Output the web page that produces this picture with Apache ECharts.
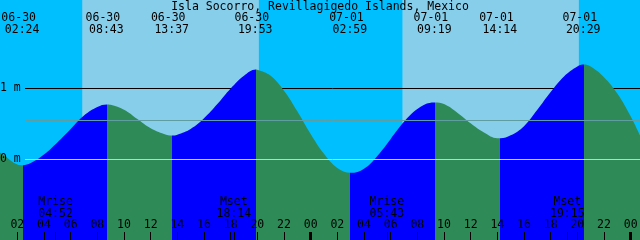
<!DOCTYPE html>
<html><head><meta charset="utf-8">
<script src="https://cdn.jsdelivr.net/npm/echarts@6/dist/echarts.min.js"></script>
<style>html,body{margin:0;padding:0;background:#00bfff}#c{width:640px;height:240px}</style>
</head><body><div id="c"></div>
<script>
// ---------- data ----------
const stationName = 'Isla Socorro, Revillagigedo Islands, Mexico';
const firstDate = '06-30';
const axisStartHour = 0.7;   // 06-30 00:42
const axisEndHour = 48.7;    // 07-02 00:42

const extremeKinds   = ['L', 'H', 'L', 'H', 'L', 'H', 'L', 'H'];
const extremeDates   = ['06-30', '06-30', '06-30', '06-30', '07-01', '07-01', '07-01', '07-01'];
const extremeTimes   = ['02:24', '08:43', '13:37', '19:53', '02:59', '09:19', '14:14', '20:29'];
const extremeHeights = [-0.08, 0.775, 0.338, 1.268, -0.188, 0.803, 0.30, 1.338];

const sampleHours   = [0.7, 1, 2, 3, 4, 5, 6, 7, 8, 9, 10, 11, 12, 13, 14, 15, 16, 17, 18, 19, 20, 21, 22, 23, 24,
                       25, 26, 28, 29, 30, 31, 32, 33, 34, 35, 36, 37, 38, 39, 40, 41, 42, 43, 44, 45, 46, 47, 48, 48.7];
const sampleHeights = [0.10, 0.06, -0.07, -0.05, 0.07, 0.24, 0.43, 0.62, 0.74, 0.77, 0.70, 0.57, 0.44, 0.36, 0.35, 0.43,
                       0.58, 0.78, 1.00, 1.18, 1.265, 1.18, 0.97, 0.68, 0.36, 0.08, -0.12, -0.13, 0.05, 0.29, 0.53, 0.71,
                       0.80, 0.78, 0.66, 0.51, 0.38, 0.30, 0.34, 0.47, 0.70, 0.95, 1.17, 1.31, 1.31, 1.16, 0.93, 0.61, 0.34];

const moonKinds = ['Mrise', 'Mset', 'Mrise', 'Mset'];
const moonDates = ['06-30', '06-30', '07-01', '07-01'];
const moonTimes = ['04:52', '18:14', '05:43', '19:15'];

const sunriseDates = ['06-30', '07-01'];
const sunriseTimes = ['06:52', '06:53'];
const sunsetDates  = ['06-30', '07-01'];
const sunsetTimes  = ['20:07', '20:07'];

const hourTickValues = [2, 4, 6, 8, 10, 12, 14, 16, 18, 20, 22, 24, 26, 28, 30, 32, 34, 36, 38, 40, 42, 44, 46, 48];
const hourTickLabels = ['02', '04', '06', '08', '10', '12', '14', '16', '18', '20', '22', '00',
                        '02', '04', '06', '08', '10', '12', '14', '16', '18', '20', '22', '00'];
const midnightTicks = [24, 48];

const levelValues = [0, 1];
const levelLabels = ['0 m', '1 m'];
const meanLevel = 0.549;

// ---------- helpers ----------
function toHours(d, t) {
  const p = t.split(':');
  return (d === firstDate ? 0 : 24) + (+p[0]) + (+p[1]) / 60;
}
const extremeHours = extremeDates.map((d, i) => toHours(d, extremeTimes[i]));
const moonHours = moonDates.map((d, i) => toHours(d, moonTimes[i]));
const dayAreas = sunriseDates.map((d, i) => [{ xAxis: toHours(d, sunriseTimes[i]) }, { xAxis: toHours(sunsetDates[i], sunsetTimes[i]) }]);

const tideData = sampleHours.map((h, i) => [h, sampleHeights[i]])
  .concat(extremeHours.map((h, i) => [h, extremeHeights[i]]))
  .sort((a, b) => a[0] - b[0]);

const RISE = '#0000ff', FALL = '#2e8b57';
const pieces = [];
for (let i = 0; i <= extremeHours.length; i++) {
  const rising = i < extremeHours.length ? extremeKinds[i] === 'H' : extremeKinds[i - 1] === 'L';
  const p = { color: rising ? RISE : FALL };
  if (i > 0) p.gte = extremeHours[i - 1];
  if (i < extremeHours.length) p.lt = extremeHours[i];
  pieces.push(p);
}

function nearestIndex(arr, v) {
  let best = 0;
  arr.forEach((a, i) => { if (Math.abs(a - v) < Math.abs(arr[best] - v)) best = i; });
  return best;
}

const FONT = 'DejaVu Sans Mono';
const FS = 11.5;
const W = 640;
const pxPerHour = W / (axisEndHour - axisStartHour);
const lineStartHour = axisStartHour + 25 / pxPerHour;
const pxPerMetre = 71;
const yMin = -80.5 / pxPerMetre, yMax = 159.5 / pxPerMetre;

function baseX(extra) {
  return Object.assign({
    type: 'value', min: axisStartHour, max: axisEndHour, gridIndex: 0, z: 20,
    axisLine: { show: false, onZero: false }, splitLine: { show: false },
    axisTick: { show: false }, axisLabel: { show: false }
  }, extra);
}
const txt = { fontFamily: FONT, fontSize: FS, color: '#000', lineHeight: 12 };

const option = {
  animation: false,
  backgroundColor: '#00bfff',
  title: {
    text: stationName, left: 'center', top: 1, padding: 0, z: 20,
    textStyle: { fontFamily: FONT, fontSize: FS, fontWeight: 'normal', color: '#000', lineHeight: 12 }
  },
  grid: { left: 0, right: 0, top: 0, bottom: 0, outerBoundsMode: 'none', containLabel: false },
  xAxis: [
    baseX({
      position: 'bottom',
      axisTick: { show: true, inside: true, length: 8, customValues: hourTickValues.concat(moonHours),
                  lineStyle: { color: '#000', width: 1 } },
      axisLabel: Object.assign({ show: true, inside: true, margin: 9, customValues: hourTickValues,
                  formatter: v => hourTickLabels[nearestIndex(hourTickValues, v)] }, txt)
    }),
    baseX({
      position: 'top',
      axisLabel: Object.assign({ show: true, inside: true, margin: 11.5, customValues: extremeHours,
                  padding: [0, 8, 0, 0],
                  formatter: v => { const i = nearestIndex(extremeHours, v); return extremeDates[i] + '\n ' + extremeTimes[i]; } },
                  txt, { lineHeight: 12.5 })
    }),
    baseX({
      position: 'bottom',
      axisLabel: Object.assign({ show: true, inside: true, margin: 20, customValues: moonHours,
                  formatter: v => { const i = nearestIndex(moonHours, v); return moonKinds[i] + '\n' + moonTimes[i]; } }, txt)
    }),
    baseX({
      position: 'bottom',
      axisTick: { show: true, inside: true, length: 8, customValues: midnightTicks,
                  lineStyle: { color: '#000', width: 3 } }
    })
  ],
  yAxis: {
    type: 'value', min: yMin, max: yMax, z: 20,
    axisLine: { show: false, onZero: false }, splitLine: { show: false }, axisTick: { show: false },
    axisLabel: Object.assign({ inside: true, margin: 0, customValues: levelValues,
                formatter: v => levelLabels[nearestIndex(levelValues, v)] }, txt)
  },
  visualMap: { type: 'piecewise', show: false, dimension: 0, seriesIndex: 1, pieces: pieces },
  series: [
    {
      type: 'line', data: [], silent: true, z: 1,
      markArea: { silent: true, z: 1, itemStyle: { color: '#87ceeb', opacity: 1 }, label: { show: false }, data: dayAreas },
      markLine: { silent: true, z: 2, symbol: ['none', 'none'], label: { show: false }, emphasis: { disabled: true },
                  lineStyle: { color: '#000', width: 1, type: 'solid', opacity: 1 },
                  data: [[{ coord: [lineStartHour, 1] }, { coord: [axisEndHour, 1] }]] }
    },
    {
      type: 'line', data: tideData, silent: true, z: 3,
      symbol: 'none', showSymbol: false, smooth: 0.4,
      lineStyle: { width: 0 },
      areaStyle: { opacity: 1, origin: 'start' }
    },
    {
      type: 'line', data: [], silent: true, z: 5,
      markLine: { silent: true, z: 5, symbol: ['none', 'none'], label: { show: false }, emphasis: { disabled: true },
                  data: [
                    [{ coord: [lineStartHour, meanLevel], lineStyle: { color: '#5f9ea0', width: 1, type: 'solid', opacity: 1 } },
                     { coord: [axisEndHour, meanLevel] }],
                    [{ coord: [lineStartHour, 0], lineStyle: { color: '#a4dcf0', width: 1, type: 'solid', opacity: 1 } },
                     { coord: [axisEndHour, 0] }]
                  ] }
    }
  ]
};

const chart = echarts.init(document.getElementById('c'), null, { renderer: 'canvas' });
chart.setOption(option);
</script>
</body></html>
